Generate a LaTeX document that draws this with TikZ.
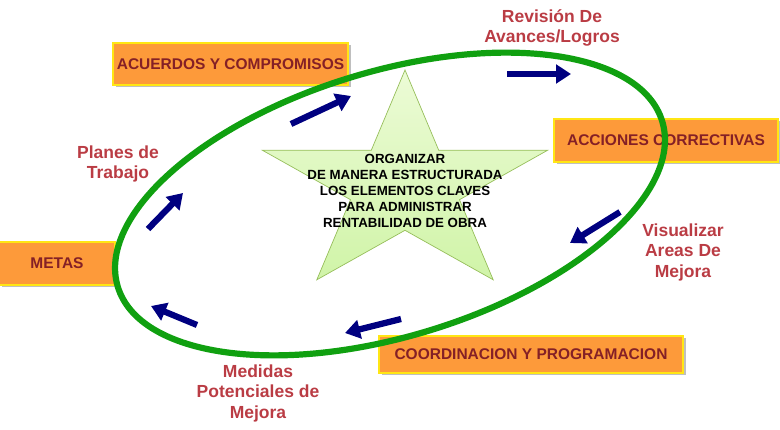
\documentclass[tikz,border=0pt]{standalone}
\usepackage{fontspec}
\setmainfont{Liberation Sans}
\usetikzlibrary{arrows.meta,shadows}

\definecolor{boxfill}{RGB}{253,154,58}
\definecolor{boxline}{RGB}{255,230,20}
\definecolor{boxtext}{RGB}{132,32,38}
\definecolor{labeltext}{RGB}{186,60,68}
\definecolor{ringgreen}{RGB}{16,160,16}
\definecolor{navyarrow}{RGB}{0,0,128}
\definecolor{startop}{RGB}{236,251,214}
\definecolor{starbottom}{RGB}{208,244,168}
\definecolor{starline}{RGB}{150,190,90}

\tikzset{
  stepbox/.style={draw=boxline, line width=1.2pt, fill=boxfill,
    inner sep=0pt, align=center,
    drop shadow={shadow xshift=2.5pt, shadow yshift=-2.5pt, opacity=0.25, fill=black},
    font=\bfseries\fontsize{15.5}{18}\selectfont, text=boxtext},
  phase/.style={align=center, text=labeltext,
    font=\bfseries\fontsize{17.5}{20.5}\selectfont},
  flow/.style={draw=navyarrow, line width=6.2pt,
    -{Triangle[length=15pt,width=18.5pt]}},
  ring/.style={draw=ringgreen, line width=6.2pt},
  starshape/.style={draw=starline, line width=0.7pt,
    top color=startop, bottom color=starbottom},
  startext/.style={align=center, text=black,
    font=\bfseries\fontsize{13.3}{16}\selectfont}
}

\begin{document}
\begin{tikzpicture}[x=1pt,y=-1pt]
\useasboundingbox (0,0) rectangle (780,430);

% boxes of the cycle
\node[stepbox, minimum width=235pt, minimum height=42pt] (acuerdos) at (230.5,64) {ACUERDOS Y COMPROMISOS};
\node[stepbox, minimum width=224pt, minimum height=43pt] (acciones) at (666,140.5) {ACCIONES CORRECTIVAS};
\node[stepbox, minimum width=304pt, minimum height=37pt] (coord) at (531,354.5) {COORDINACION Y PROGRAMACION};
\node[stepbox, minimum width=116pt, minimum height=43pt] (metas) at (57,263.5) {METAS};

% central star
\path[starshape] (405,70) -- (438.7,150.2) -- (547.7,150.2) -- (459.5,199.7)
  -- (493.2,279.8) -- (405,230.3) -- (316.8,279.8) -- (350.5,199.7)
  -- (262.3,150.2) -- (371.3,150.2) -- cycle;
\node[startext] (goal) at (405,191) {ORGANIZAR\\DE MANERA ESTRUCTURADA\\LOS ELEMENTOS CLAVES\\PARA ADMINISTRAR\\RENTABILIDAD DE OBRA};

% the ring
\draw[ring, rotate around={16.9:(390,204)}] (390,204) ellipse [x radius=284.5, y radius=132.5];

% phase labels
\node[phase] (revision) at (552,28) {Revisión De\\Avances/Logros};
\node[phase] (planes) at (118,164) {Planes de\\Trabajo};
\node[phase] (visualizar) at (683,252) {Visualizar\\Areas De\\Mejora};
\node[phase] (medidas) at (258,393) {Medidas\\Potenciales de\\Mejora};

% direction arrows
\coordinate (a1s) at (291,124); \coordinate (a1e) at (351,96);
\coordinate (a2s) at (507,74);  \coordinate (a2e) at (571,74);
\coordinate (a3s) at (620,212); \coordinate (a3e) at (570,243);
\coordinate (a4s) at (401,319); \coordinate (a4e) at (345,333);
\coordinate (a5s) at (197,325); \coordinate (a5e) at (151,306);
\coordinate (a6s) at (148,229); \coordinate (a6e) at (183,193);
\foreach \s/\e in {a1s/a1e,a2s/a2e,a3s/a3e,a4s/a4e,a5s/a5e,a6s/a6e}
  \draw[flow] (\s) -- (\e);
\end{tikzpicture}
\end{document}
